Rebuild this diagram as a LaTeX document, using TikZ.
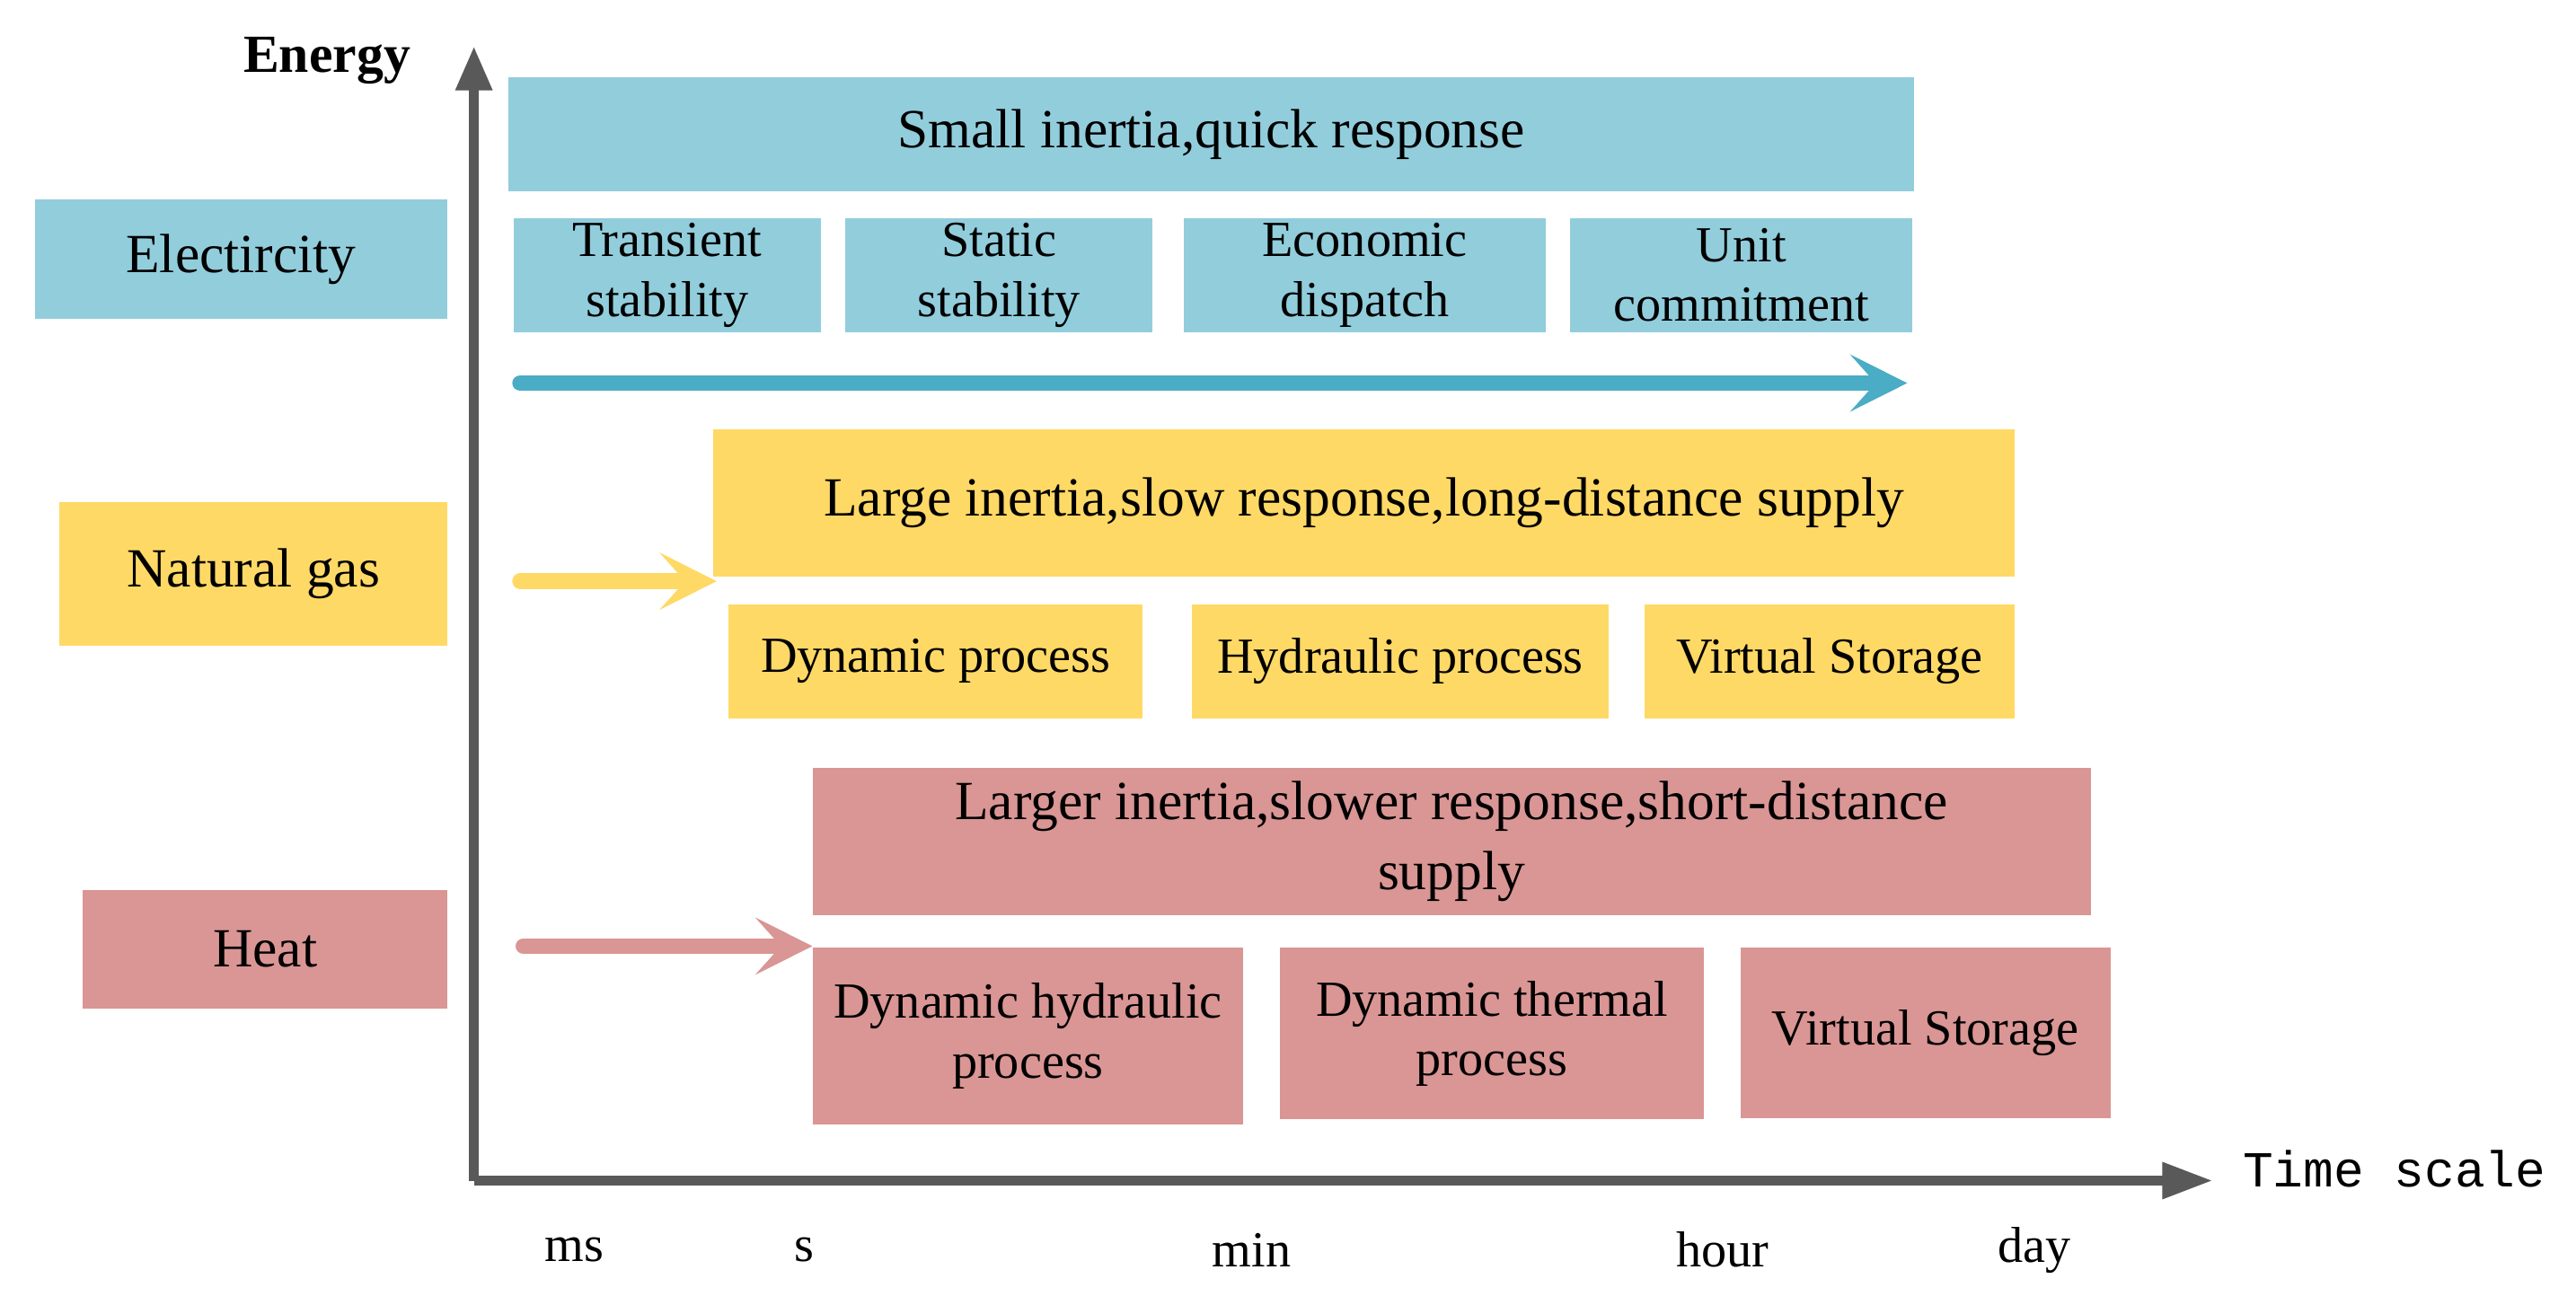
\documentclass[tikz,border=0pt]{standalone}
\usepackage{fontspec}
\setmainfont{Liberation Serif}
\newfontfamily\tmono{Liberation Mono}
\usetikzlibrary{arrows.meta,positioning}
\definecolor{elec}{HTML}{92CDDC}
\definecolor{elecdark}{HTML}{4BACC6}
\definecolor{gas}{HTML}{FFD966}
\definecolor{heat}{HTML}{D99694}
\definecolor{axis}{HTML}{595959}
\tikzset{
  box/.style={inner sep=0pt,align=center,font=\fontsize{16}{19}\selectfont},
  bar/.style={box,font=\fontsize{17.5}{22}\selectfont},
  flow/.style={line width=5pt,line cap=round,-{Stealth[length=18pt,width=18pt,inset=8pt]}}
}
\newcommand{\blk}[6]{% name, color, x1, y1, x2, y2
  \path[fill=#2] (#3,#4) rectangle (#5,#6);
  \coordinate (#1) at ({(#3+#5)/2},{(#4+#6)/2});}
\begin{document}
\begin{tikzpicture}[x=0.01838cm,y=-0.01838cm]
    \useasboundingbox (0,0) rectangle (1560,790);
    % axes
    \coordinate (origin) at (287,715);
    \coordinate (ytop) at (287,28);
    \coordinate (xend) at (1340,715);
    \draw[axis,line width=3pt,-{Triangle[length=14pt,width=11pt]}] (origin) -- (ytop);
    \draw[axis,line width=3pt,-{Triangle[length=16pt,width=11pt]}] (origin) -- (xend);
    \path (198,37) node (energy) {\fontsize{17}{20}\selectfont\bfseries Energy};
    \path (1450,708) node (time) {\fontsize{16}{20}\selectfont\tmono Time scale};
    \foreach \x/\t in {348/ms,487/s,758/min,1043/hour,1232/day}
      \path (\x,757) node (tick-\t) {\fontsize{16}{20}\selectfont \t};
    % energy carriers
    \blk{elecbox}{elec}{21}{121}{271}{193}
    \blk{gasbox}{gas}{36}{304}{271}{391}
    \blk{heatbox}{heat}{50}{539}{271}{611}
    \node[bar] at (elecbox) {Electircity};
    \node[bar] at (gasbox) {Natural gas};
    \node[bar] at (heatbox) {Heat};
    % electricity
    \blk{ebar}{elec}{308}{47}{1159}{116}
    \node[bar] at (ebar) {Small inertia,quick response};
    \blk{e1}{elec}{311}{132}{497}{201}
    \blk{e2}{elec}{512}{132}{698}{201}
    \blk{e3}{elec}{717}{132}{936}{201}
    \blk{e4}{elec}{951}{132}{1158}{201}
    \node[box] at (e1) {Transient\\stability};
    \node[box] at (e2) {Static\\stability};
    \node[box] at (e3) {Economic\\dispatch};
    \node[box] at (e4) {Unit\\commitment};
    \coordinate (ea) at (315,232);
    \coordinate (eb) at (1155,232);
    \draw[flow,elecdark] (ea) -- (eb);
    % natural gas
    \blk{gbar}{gas}{432}{260}{1220}{349}
    \node[bar] at (gbar) {Large inertia,slow response,long-distance supply};
    \blk{g1}{gas}{441}{366}{692}{435}
    \blk{g2}{gas}{722}{366}{974}{435}
    \blk{g3}{gas}{996}{366}{1220}{435}
    \node[box] at (g1) {Dynamic process};
    \node[box] at (g2) {Hydraulic process};
    \node[box] at (g3) {Virtual Storage};
    \coordinate (ga) at (315,352);
    \coordinate (gb) at (434,352);
    \draw[flow,gas] (ga) -- (gb);
    % heat
    \blk{hbar}{heat}{492}{465}{1266}{554}
    \node[bar] at (hbar) {Larger inertia,slower response,short-distance\\supply};
    \blk{h1}{heat}{492}{574}{753}{681}
    \blk{h2}{heat}{775}{574}{1032}{678}
    \blk{h3}{heat}{1054}{574}{1278}{677}
    \node[box] at (h1) {Dynamic hydraulic\\process};
    \node[box] at (h2) {Dynamic thermal\\process};
    \node[box] at (h3) {Virtual Storage};
    \coordinate (ha) at (317,573);
    \coordinate (hb) at (492,573);
    \draw[flow,heat] (ha) -- (hb);
\end{tikzpicture}
\end{document}
